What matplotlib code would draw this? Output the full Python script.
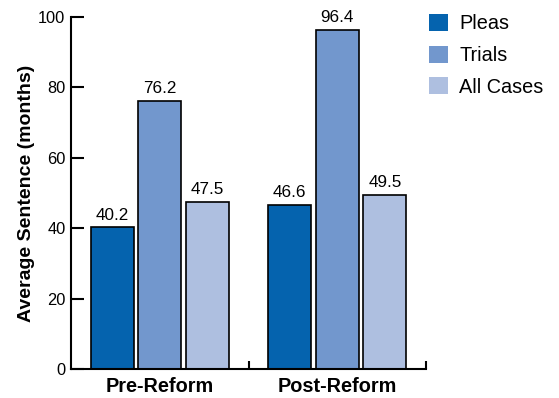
import matplotlib
matplotlib.use("Agg")
import matplotlib.pyplot as plt
import numpy as np

plt.rcParams["font.family"] = ["Liberation Sans", "DejaVu Sans"]

# Gemiddelde straf per periode en afdoeningswijze
PERIODES = ["Pre-Reform", "Post-Reform"]
REEKSEN = ["Pleas", "Trials", "All Cases"]
PLEAS = [40.2, 46.6]
TRIALS = [76.2, 96.4]
ALL_CASES = [47.5, 49.5]
Y_TICKS = [0, 20, 40, 60, 80, 100]

KLEUREN = ["#0563AE", "#7297CD", "#AEBFE0"]

fig = plt.figure(figsize=(5.59, 3.98), dpi=100)
ax = fig.add_axes([0.1270, 0.0729, 0.6351, 0.8844])

x = np.arange(len(PERIODES))
breedte = 0.243
afstand = 0.268
for i, (naam, waarden) in enumerate(zip(REEKSEN, [PLEAS, TRIALS, ALL_CASES])):
    offset = (i - 1) * afstand
    bars = ax.bar(x + offset, waarden, breedte, color=KLEUREN[i],
                  edgecolor="black", linewidth=1.2, label=naam)
    for bar, v in zip(bars, waarden):
        ax.text(bar.get_x() + bar.get_width() / 2, v + 1.3, f"{v:.1f}",
                ha="center", va="bottom", fontsize=12.3)

ax.set_xlim(-0.5, 1.5)
ax.set_ylim(0, 100)
ax.set_yticks(Y_TICKS)
ax.tick_params(axis="y", direction="in", length=9, width=1.5, labelsize=11.8, pad=4)

ax.set_xticks(x)
ax.set_xticklabels(PERIODES, fontsize=14.3, fontweight="bold")
ax.tick_params(axis="x", which="major", length=0, pad=6)
ax.set_xticks([0.5, 1.5], minor=True)
ax.tick_params(axis="x", which="minor", direction="in", length=6, width=1.5)

for kant in ["top", "right"]:
    ax.spines[kant].set_visible(False)
for kant in ["left", "bottom"]:
    ax.spines[kant].set_linewidth(1.5)

ax.set_ylabel("Average Sentence (months)", fontsize=14, fontweight="bold", labelpad=2.5)

ax.legend(loc="upper left", bbox_to_anchor=(0.754, 0.985), bbox_transform=fig.transFigure,
          frameon=False, fontsize=14.3, handlelength=0.95, handleheight=0.95,
          handletextpad=0.55, labelspacing=0.62, borderaxespad=0)
for h in ax.get_legend().legend_handles:
    h.set_edgecolor("none")

fig.savefig("out.png", dpi=100)
